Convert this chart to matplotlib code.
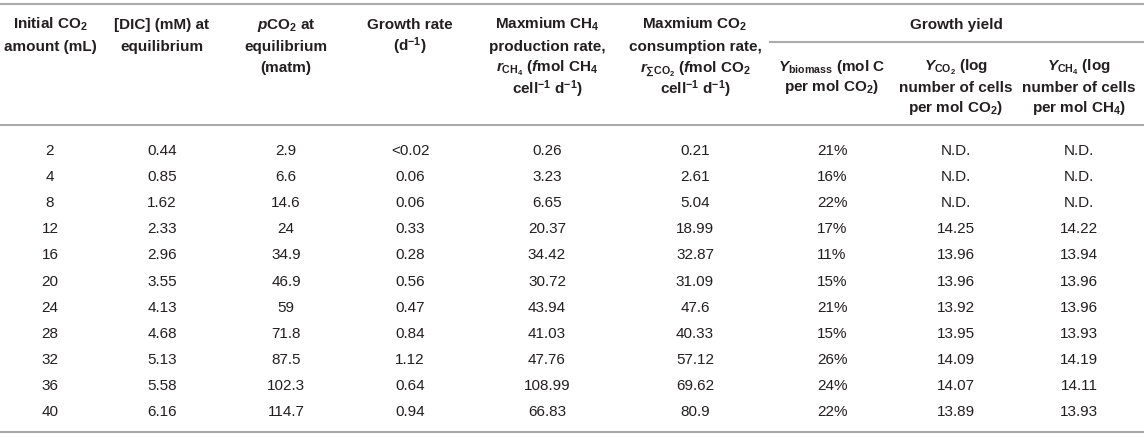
import numpy as np
import matplotlib.pyplot as plt

plt.rcParams['font.family'] = ['Liberation Sans', 'DejaVu Sans']
plt.rcParams['mathtext.fontset'] = 'custom'
plt.rcParams['mathtext.rm'] = 'Liberation Sans:bold'
plt.rcParams['mathtext.it'] = 'Liberation Sans:italic:bold'
plt.rcParams['mathtext.bf'] = 'Liberation Sans:bold'

# table content
co2_ml = ['2', '4', '8', '12', '16', '20', '24', '28', '32', '36', '40']
dic_mm = ['0.44', '0.85', '1.62', '2.33', '2.96', '3.55', '4.13', '4.68', '5.13', '5.58', '6.16']
pco2 = ['2.9', '6.6', '14.6', '24', '34.9', '46.9', '59', '71.8', '87.5', '102.3', '114.7']
growth_rate = ['<0.02', '0.06', '0.06', '0.33', '0.28', '0.56', '0.47', '0.84', '1.12', '0.64', '0.94']
r_ch4 = ['0.26', '3.23', '6.65', '20.37', '34.42', '30.72', '43.94', '41.03', '47.76', '108.99', '66.83']
r_co2 = ['0.21', '2.61', '5.04', '18.99', '32.87', '31.09', '47.6', '40.33', '57.12', '69.62', '80.9']
y_biomass = ['21%', '16%', '22%', '17%', '11%', '15%', '21%', '15%', '26%', '24%', '22%']
y_co2 = ['N.D.', 'N.D.', 'N.D.', '14.25', '13.96', '13.96', '13.92', '13.95', '14.09', '14.07', '13.89']
y_ch4 = ['N.D.', 'N.D.', 'N.D.', '14.22', '13.94', '13.96', '13.96', '13.93', '14.19', '14.11', '13.93']

headers = [
    ['Initial CO$_2$', 'amount (mL)'],
    ['[DIC] (mM) at', 'equilibrium'],
    ['$\\mathit{p}$CO$_2$ at', 'equilibrium', '(matm)'],
    ['Growth rate', '(d$^{-1}$)'],
    ['Maxmium CH$_4$', 'production rate,',
     '$\\mathit{r}_{\\mathrm{CH_4}}$ ($\\mathit{f}$mol CH$_4$', 'cell$^{-1}$ d$^{-1}$)'],
    ['Maxmium CO$_2$', 'consumption rate,',
     '$\\mathit{r}_{\\sum\\mathrm{CO_2}}$ ($\\mathit{f}$mol CO$_2$', 'cell$^{-1}$ d$^{-1}$)'],
    ['$\\mathit{Y}_{\\mathrm{biomass}}$ (mol C', 'per mol CO$_2$)'],
    ['$\\mathit{Y}_{\\mathrm{CO_2}}$ (log', 'number of cells', 'per mol CO$_2$)'],
    ['$\\mathit{Y}_{\\mathrm{CH_4}}$ (log', 'number of cells', 'per mol CH$_4$)'],
]
group_label = 'Growth yield'

columns = [co2_ml, dic_mm, pco2, growth_rate, r_ch4, r_co2, y_biomass, y_co2, y_ch4]
col_x = [50, 162, 286, 410, 547, 695, 832, 956, 1079]

fig = plt.figure(figsize=(11.44, 4.37), dpi=100)
ax = fig.add_axes([0, 0, 1, 1])
ax.set_xlim(0, 1144)
ax.set_ylim(437, 0)
ax.axis('off')

txt = '#231f20'
line_c = '#aaaaaa'

# rules
ax.plot([0, 1144], [4, 4], color=line_c, lw=1.5)
ax.plot([0, 1144], [125, 125], color=line_c, lw=1.5)
ax.plot([0, 1144], [432, 432], color=line_c, lw=1.5)
ax.plot([770, 1144], [42, 42], color=line_c, lw=1.5)

# header, one line at a time so the spacing stays even
for i, lines in enumerate(headers):
    first = 66 if i >= 6 else 24
    step = 20.5 if i >= 6 else 21.7
    for k, s in enumerate(lines):
        ax.text(col_x[i], first + k * step + 5, s, ha='center', va='baseline',
                fontsize=11, fontweight='bold', color=txt)
ax.text(956, 24 + 5, group_label, ha='center', va='baseline', fontsize=11,
        fontweight='bold', color=txt)

# body
for i, col in enumerate(columns):
    for j, v in enumerate(col):
        ax.text(col_x[i], 151 + j * 26.1, v, ha='center', va='center',
                fontsize=11, color=txt)

fig.savefig('out.png', dpi=100)
